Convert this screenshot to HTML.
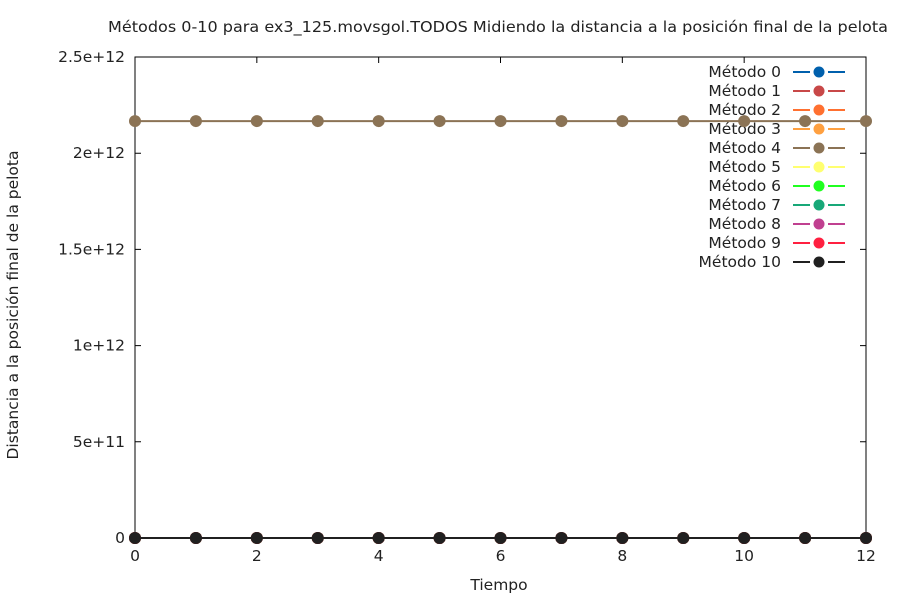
<!DOCTYPE html>
<html><head><meta charset="utf-8"><style>body{margin:0;background:#fff}svg{font-family:"DejaVu Sans","Liberation Sans",sans-serif}</style></head>
<body>
<svg id="c" width="900" height="600" viewBox="0 0 900 600">
<rect width="900" height="600" fill="#fff"/>
<text x="498" y="32" text-anchor="middle" font-size="15" fill="#222" textLength="780" lengthAdjust="spacingAndGlyphs">Métodos 0-10 para ex3_125.movsgol.TODOS Midiendo la distancia a la posición final de la pelota</text>
<text x="499" y="590" text-anchor="middle" font-size="15.5" fill="#222">Tiempo</text>
<text transform="translate(18,305) rotate(-90)" text-anchor="middle" font-size="15.5" fill="#222">Distancia a la posición final de la pelota</text>
<g id="axes"></g><g id="series"></g><g id="legend"></g>
</svg>
<script>
const xValues=[0,1,2,3,4,5,6,7,8,9,10,11,12];
const seriesNames=["Método 0","Método 1","Método 2","Método 3","Método 4","Método 5","Método 6","Método 7","Método 8","Método 9","Método 10"];
const seriesColors=["#0060ad","#c84848","#ff7030","#ffa040","#8b7355","#ffff70","#20ff20","#18a878","#c04090","#ff2040","#202020"];
const seriesLevels=[0,0,0,0,2.167e12,0,0,0,0,0,0];
const xTicks=[0,2,4,6,8,10,12];
const yTicks=[0,5e11,1e12,1.5e12,2e12,2.5e12];
const yTickLabels=["0","5e+11","1e+12","1.5e+12","2e+12","2.5e+12"];
const L=135,R=866,T=57,B=538;
const sx=v=>L+(v-0)/(12-0)*(R-L);
const sy=v=>B-v/2.5e12*(B-T);
const NS="http://www.w3.org/2000/svg";
function mk(p,t,a){const e=document.createElementNS(NS,t);for(const k in a)e.setAttribute(k,a[k]);p.appendChild(e);return e;}
const ax=document.getElementById('axes');
const fr=mk(ax,'rect',{x:L,y:T,width:R-L,height:B-T,fill:'none',stroke:'#000','stroke-width':1});


xTicks.forEach(v=>{const x=sx(v);
 const t=mk(ax,'path',{d:`M${x},${B}v-6M${x},${T}v6`,stroke:'#000'});
 
 
 const tx=mk(ax,'text',{x:x,y:B+23,'text-anchor':'middle','font-size':15.5,fill:'#222'});tx.textContent=v;
 
 });
yTicks.forEach((v,i)=>{const y=sy(v);
 const t=mk(ax,'path',{d:`M${L},${y}h6M${R},${y}h-6`,stroke:'#000'});
 
 
 const tx=mk(ax,'text',{x:L-10,y:y+5,'text-anchor':'end','font-size':15.5,fill:'#222'});tx.textContent=yTickLabels[i];
 
 });
const sg=document.getElementById('series');
seriesNames.forEach((n,i)=>{const g=mk(sg,'g',{});
 
 
 const pts=xValues.map(x=>sx(x)+','+sy(seriesLevels[i])).join(' ');
 mk(g,'polyline',{points:pts,fill:'none',stroke:seriesColors[i],'stroke-width':2});
 xValues.forEach(x=>{const c=mk(g,'circle',{cx:sx(x),cy:sy(seriesLevels[i]),r:6,fill:seriesColors[i]});
  
  });});
const lg=document.getElementById('legend');
seriesNames.forEach((n,i)=>{const y=72+i*19;const g=mk(lg,'g',{});
 
 
 const t=mk(g,'text',{x:781,y:y+5,'text-anchor':'end','font-size':15.5,fill:'#222'});t.textContent=n;
 mk(g,'path',{d:`M793,${y}h17M828,${y}h17`,stroke:seriesColors[i],'stroke-width':2});
 mk(g,'circle',{cx:819,cy:y,r:5.5,fill:seriesColors[i]});});
sg.parentNode.appendChild(sg.children[4]);
</script>
</body></html>
